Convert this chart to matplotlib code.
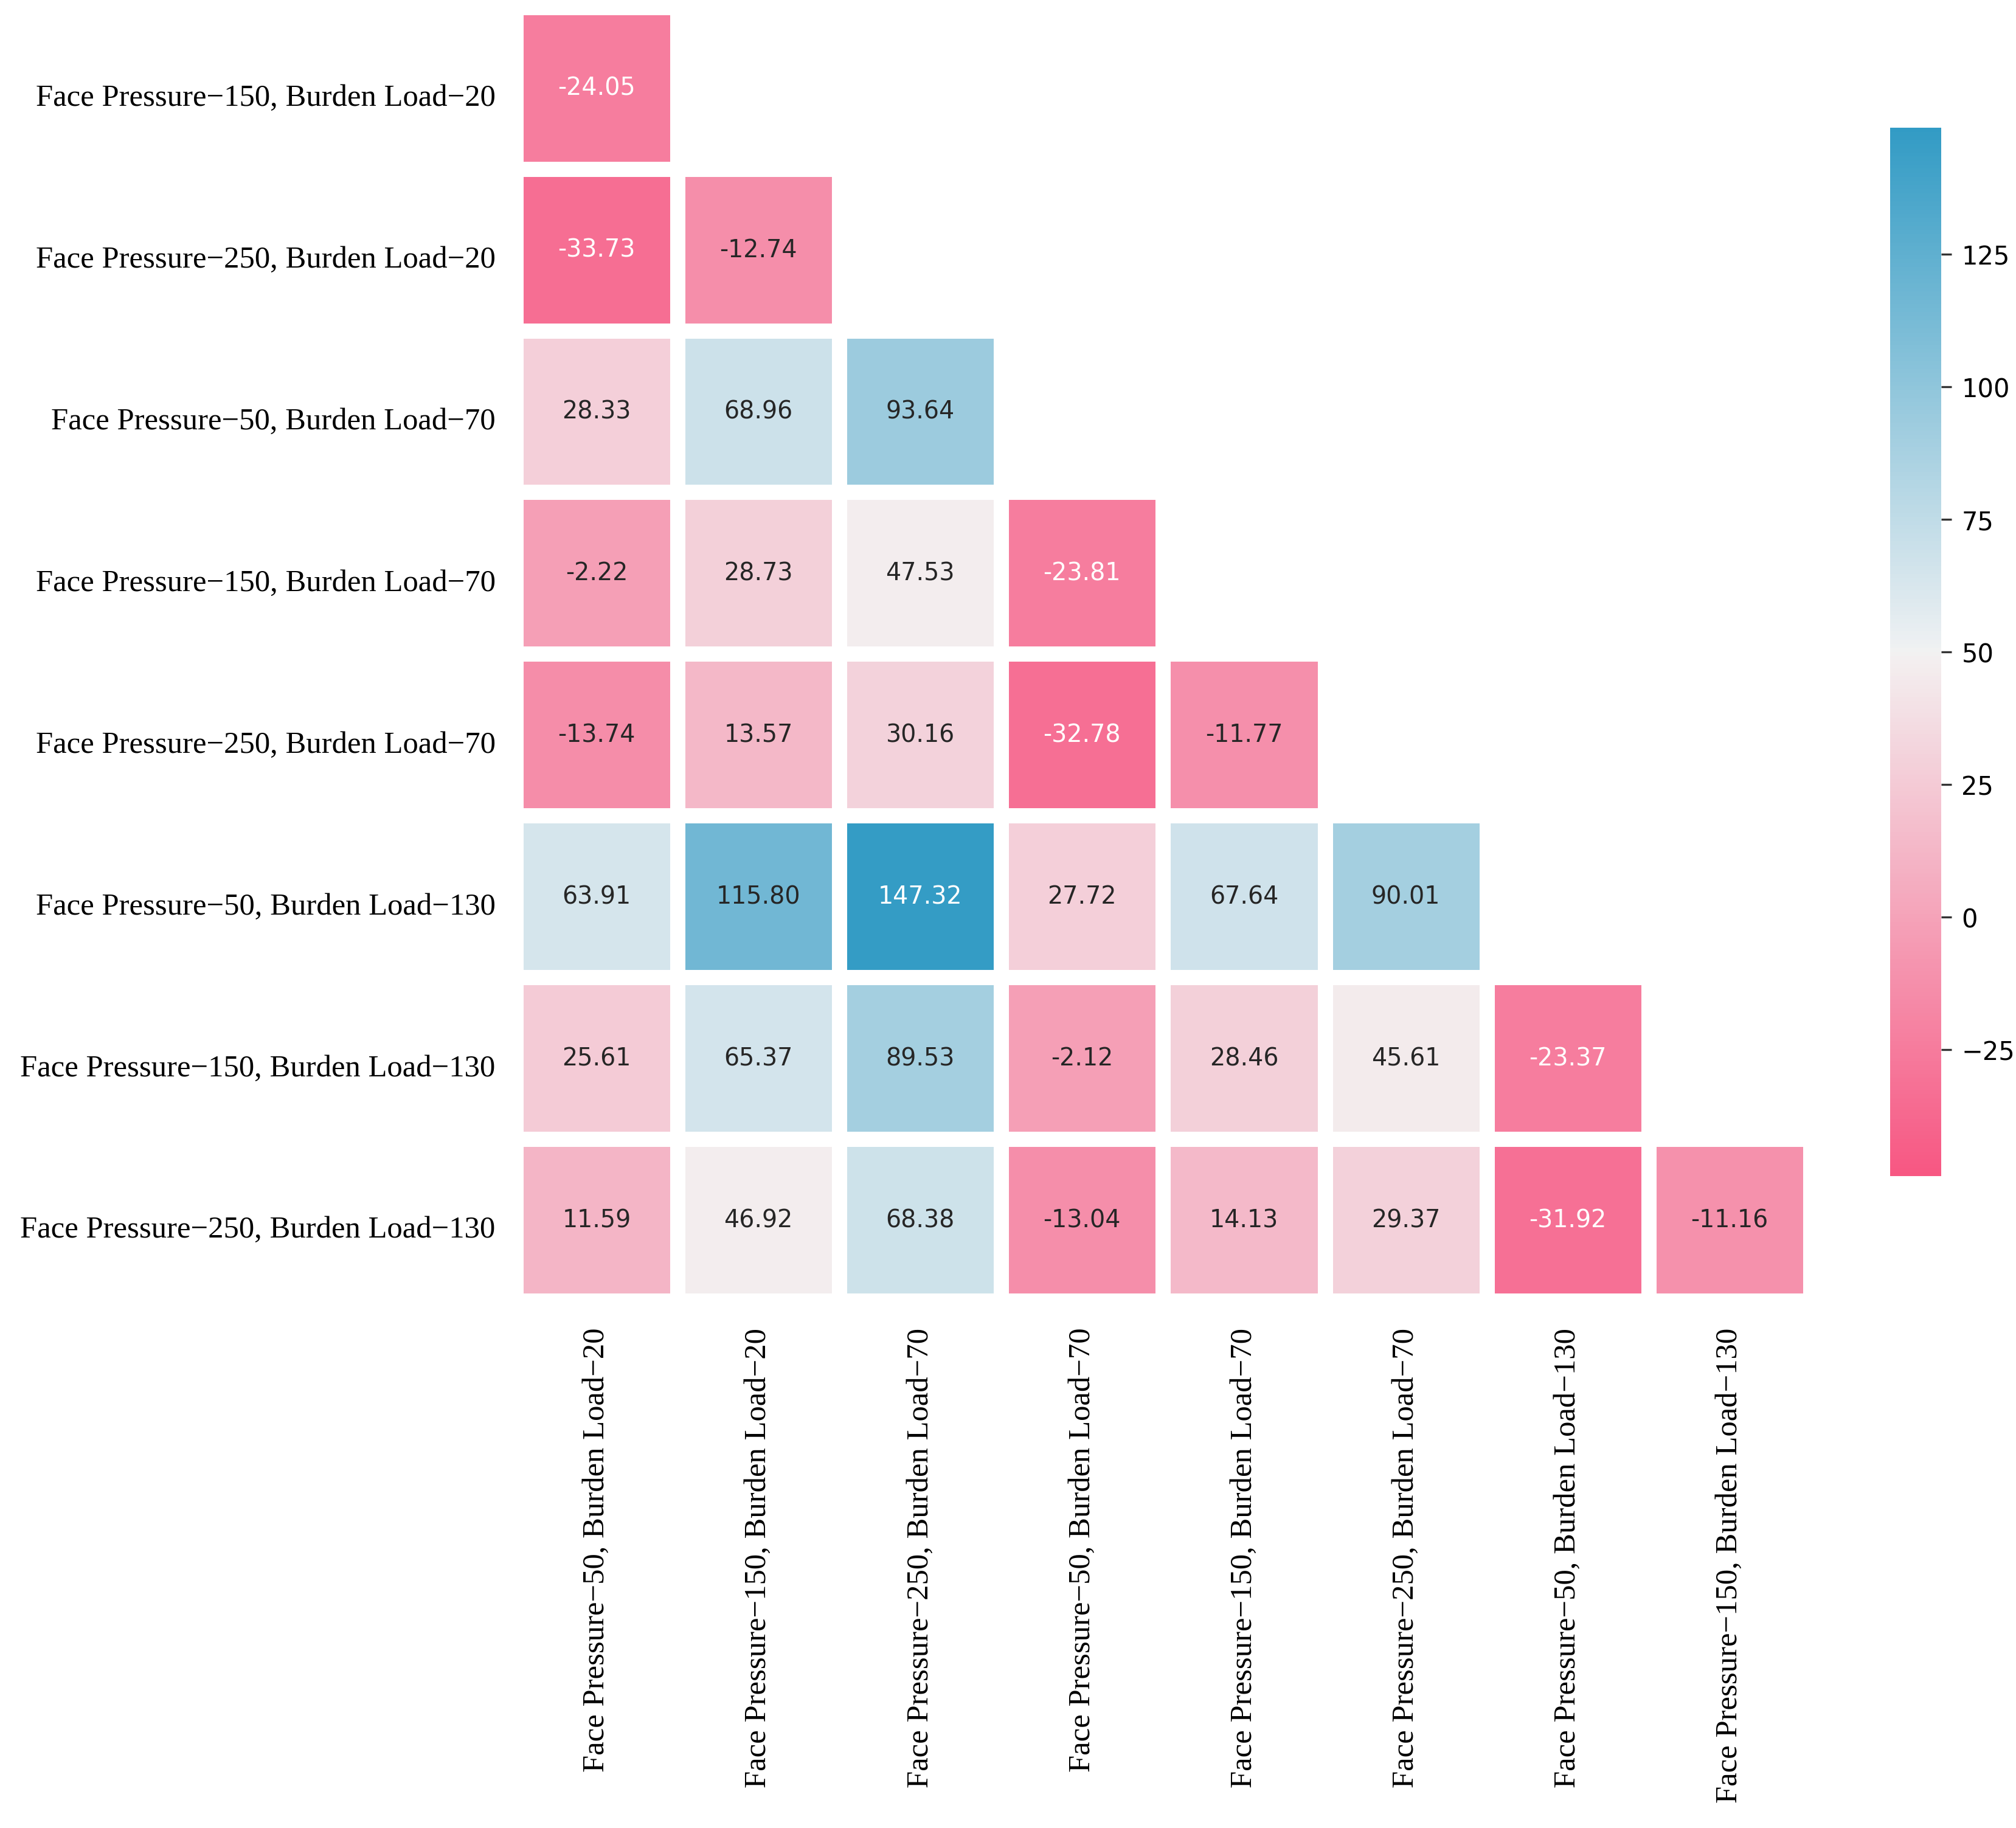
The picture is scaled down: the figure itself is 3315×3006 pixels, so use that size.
import numpy as np
import matplotlib
matplotlib.use("Agg")
import matplotlib.pyplot as plt
import matplotlib.transforms as mtransforms
import seaborn as sns

# row / column labels of the lower-triangle matrix
row_labels = [
    "Face Pressure\u2212150, Burden Load\u221220",
    "Face Pressure\u2212250, Burden Load\u221220",
    "Face Pressure\u221250, Burden Load\u221270",
    "Face Pressure\u2212150, Burden Load\u221270",
    "Face Pressure\u2212250, Burden Load\u221270",
    "Face Pressure\u221250, Burden Load\u2212130",
    "Face Pressure\u2212150, Burden Load\u2212130",
    "Face Pressure\u2212250, Burden Load\u2212130",
]
col_labels = [
    "Face Pressure\u221250, Burden Load\u221220",
    "Face Pressure\u2212150, Burden Load\u221220",
    "Face Pressure\u2212250, Burden Load\u221270",
    "Face Pressure\u221250, Burden Load\u221270",
    "Face Pressure\u2212150, Burden Load\u221270",
    "Face Pressure\u2212250, Burden Load\u221270",
    "Face Pressure\u221250, Burden Load\u2212130",
    "Face Pressure\u2212150, Burden Load\u2212130",
]

row_fp150_bl20 = [-24.05]
row_fp250_bl20 = [-33.73, -12.74]
row_fp50_bl70 = [28.33, 68.96, 93.64]
row_fp150_bl70 = [-2.22, 28.73, 47.53, -23.81]
row_fp250_bl70 = [-13.74, 13.57, 30.16, -32.78, -11.77]
row_fp50_bl130 = [63.91, 115.80, 147.32, 27.72, 67.64, 90.01]
row_fp150_bl130 = [25.61, 65.37, 89.53, -2.12, 28.46, 45.61, -23.37]
row_fp250_bl130 = [11.59, 46.92, 68.38, -13.04, 14.13, 29.37, -31.92, -11.16]

rows = [row_fp150_bl20, row_fp250_bl20, row_fp50_bl70, row_fp150_bl70,
        row_fp250_bl70, row_fp50_bl130, row_fp150_bl130, row_fp250_bl130]

n = len(col_labels)
data = np.full((len(rows), n), np.nan)
for i, r in enumerate(rows):
    data[i, :len(r)] = r
mask = np.isnan(data)

fig = plt.figure(figsize=(11.05, 10.0233), dpi=300)
ax = fig.add_axes([0.2558, 0.2883, 0.6422, 0.7075])
cax = fig.add_axes([0.9376, 0.3565, 0.0253, 0.5733])

cmap = sns.diverging_palette(0, 230, 90, 60, as_cmap=True)

sns.heatmap(data, mask=mask, cmap=cmap, vmin=-48.8, vmax=148.8, center=50,
            annot=True, fmt=".2f", annot_kws={"fontsize": 9.5},
            linewidths=6, linecolor="white",
            xticklabels=col_labels, yticklabels=row_labels,
            ax=ax, cbar_ax=cax)

ax.tick_params(axis="both", length=0)
ax.tick_params(axis="x", pad=10.5)
ax.tick_params(axis="y", pad=8)
for lab in ax.get_xticklabels():
    lab.set_fontfamily("Liberation Serif")
    lab.set_fontsize(12.2)
    lab.set_rotation(90)

# y labels sit a little below the cell centres in the original
shift = mtransforms.ScaledTranslation(0, -16 / 300, fig.dpi_scale_trans)
for lab in ax.get_yticklabels():
    lab.set_fontfamily("Liberation Serif")
    lab.set_fontsize(12.2)
    lab.set_rotation(0)
    lab.set_transform(lab.get_transform() + shift)

cax.tick_params(labelsize=10, length=4, width=0.8, color="#333333", pad=4)
cax.set_yticks([-25, 0, 25, 50, 75, 100, 125])
for s in cax.spines.values():
    s.set_visible(False)

fig.savefig("out.png", dpi=300)
